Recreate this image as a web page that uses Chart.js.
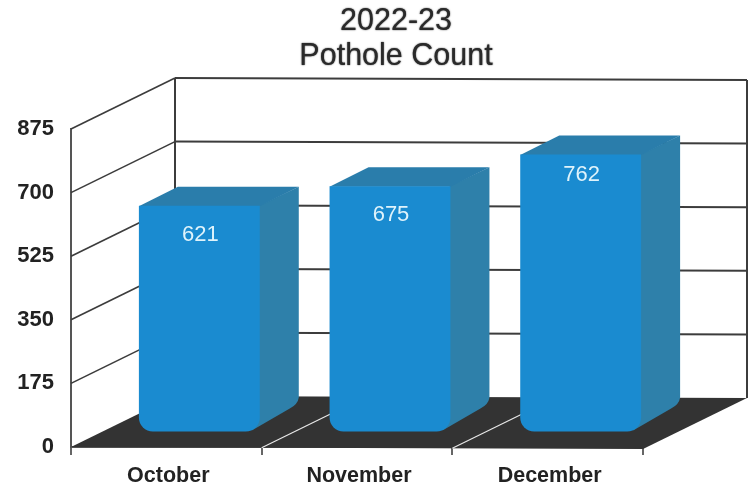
<!DOCTYPE html>
<html>
<head>
<meta charset="utf-8">
<style>html,body{margin:0;padding:0;background:#fff}canvas{display:block}</style>
<script src="https://cdn.jsdelivr.net/npm/chart.js@4"></script>
</head>
<body>
<canvas id="c" width="754" height="489"></canvas>
<script>
const titleLines = ['2022-23', 'Pothole Count'];
const categories = ['October', 'November', 'December'];
const potholeCounts = [621, 675, 762];
const yTickValues = [0, 175, 350, 525, 700, 875];
const labelDrop = [29, 29, 20];

const WALL = { dx: 104, dy: -51, skew: 2 };
const BAR = { shiftX: 33, shiftY: -15.5, dx: 39, dy: -19 };
const FRONT = '#1a8bd0', SIDE = '#2e80aa', TOP = '#2a7dab';

const scene = {
  id: 'scene',
  afterLayout(chart) {
    // centre the title over the plot's visual middle, with a slightly heavier ink
    const b = chart.titleBlock;
    b.left = 38;
    if (!b._heavy) {
      b._heavy = true;
      const orig = b.draw;
      b.draw = function (a) {
        const ctx = this.ctx;
        ctx.save();
        ctx.shadowColor = '#2a2a2a';
        ctx.shadowBlur = 1.5;
        orig.call(this, a);
        ctx.restore();
      };
    }
  },
  beforeDatasetsDraw(chart) {
    const { ctx, scales: { x, y } } = chart;
    const y0 = y.getPixelForValue(0);
    const l = x.left, r = x.right;
    const bl = l + WALL.dx, br = r + WALL.dx;
    const rise = 2;
    ctx.save();
    // floor
    ctx.fillStyle = '#333333';
    ctx.beginPath();
    ctx.moveTo(l, y0);
    ctx.lineTo(r, y0 + rise);
    ctx.lineTo(br, y0 + rise + WALL.dy);
    ctx.lineTo(bl, y0 + WALL.dy);
    ctx.closePath();
    ctx.fill();
    // floor dividers
    ctx.strokeStyle = '#e8e8e8';
    ctx.lineWidth = 1.2;
    for (let i = 1; i < categories.length; i++) {
      const px = l + (r - l) * i / categories.length;
      ctx.beginPath();
      ctx.moveTo(px, y0 + rise * i / categories.length);
      ctx.lineTo(px + WALL.dx, y0 + WALL.dy + rise * i / categories.length);
      ctx.stroke();
    }
    // grid lines
    ctx.strokeStyle = '#3c3c3c';
    yTickValues.forEach(v => {
      const p = y.getPixelForValue(v);
      if (v > 0) {
        ctx.lineWidth = 1.6;
        ctx.beginPath();
        ctx.moveTo(l, p);
        ctx.lineTo(bl, p + WALL.dy);
        ctx.stroke();
        ctx.lineWidth = 2;
        ctx.beginPath();
        ctx.moveTo(bl, p + WALL.dy);
        ctx.lineTo(br, p + WALL.dy + WALL.skew);
        ctx.stroke();
      }
    });
    // wall verticals
    const top = y.getPixelForValue(yTickValues[yTickValues.length - 1]);
    ctx.lineWidth = 2;
    ctx.beginPath();
    ctx.moveTo(bl, top + WALL.dy);
    ctx.lineTo(bl, y0 + WALL.dy);
    ctx.moveTo(br, top + WALL.dy + WALL.skew);
    ctx.lineTo(br, y0 + WALL.dy + WALL.skew);
    ctx.stroke();
    ctx.restore();

    // bars: shifted into the depth of the floor
    ctx.save();
    ctx.translate(BAR.shiftX, BAR.shiftY);
    chart.getDatasetMeta(0).data.forEach(el => {
      const R = el.x + el.width / 2, L = el.x - el.width / 2, T = el.y, B = el.base;
      ctx.fillStyle = SIDE;
      ctx.beginPath();
      ctx.moveTo(R - 1, T);
      ctx.lineTo(R + BAR.dx, T + BAR.dy);
      ctx.lineTo(R + BAR.dx, B + BAR.dy - 15);
      ctx.quadraticCurveTo(R + BAR.dx - 1, B + BAR.dy - 8, R + BAR.dx - 9, B + BAR.dy - 4);
      ctx.lineTo(R - 8, B - 1);
      ctx.closePath();
      ctx.fill();
      ctx.fillStyle = TOP;
      ctx.beginPath();
      ctx.moveTo(L, T + 0.5);
      ctx.lineTo(L + BAR.dx, T + BAR.dy);
      ctx.lineTo(R + BAR.dx, T + BAR.dy);
      ctx.lineTo(R, T + 0.5);
      ctx.closePath();
      ctx.fill();
    });
  },
  afterDatasetsDraw(chart) {
    const { ctx } = chart;
    ctx.restore();
    ctx.save();
    ctx.fillStyle = '#dff3fb';
    ctx.font = '22px "Liberation Sans"';
    ctx.textAlign = 'center';
    ctx.textBaseline = 'middle';
    chart.getDatasetMeta(0).data.forEach((el, i) => {
      ctx.fillText(String(potholeCounts[i]), el.x + BAR.shiftX + 1, el.y + BAR.shiftY + labelDrop[i]);
    });
    ctx.restore();
  }
};

new Chart(document.getElementById('c'), {
  type: 'bar',
  plugins: [scene],
  data: {
    labels: categories,
    datasets: [{
      data: potholeCounts,
      backgroundColor: FRONT,
      borderWidth: 0,
      borderRadius: { topLeft: 0, topRight: 0, bottomLeft: 14, bottomRight: 14 },
      borderSkipped: false,
      categoryPercentage: 0.634,
      barPercentage: 1,
      clip: false,
      yAxisID: 'y'
    }]
  },
  options: {
    responsive: false,
    animation: false,
    layout: { padding: 0 },
    plugins: {
      legend: { display: false },
      tooltip: { enabled: false },
      title: {
        display: true,
        text: titleLines,
        color: '#2a2a2a',
        font: { family: '"Liberation Sans"', size: 30.5, weight: 'normal', lineHeight: 1.12 },
        padding: { top: 5, bottom: 55.7 }
      }
    },
    scales: {
      x: {
        grid: { drawOnChartArea: false, drawTicks: true, tickLength: 8, color: '#666666', lineWidth: 2, offset: true },
        border: { color: '#555555', width: 2 },
        ticks: {
          color: '#222222', padding: 8, maxRotation: 0, labelOffset: 2,
          font: { family: '"Liberation Sans"', size: 21.5, weight: 'bold' }
        },
        afterFit(s) { s.height = 42; }
      },
      y: {
        min: 0, max: 875,
        afterBuildTicks(s) { s.ticks = yTickValues.map(v => ({ value: v })); },
        grid: { display: false, drawTicks: false },
        border: { color: '#555555', width: 2 },
        ticks: {
          color: '#222222', padding: 17,
          font: { family: '"Liberation Sans"', size: 22, weight: 'bold' }
        },
        afterFit(s) { s.width = 71; }
      },
      y2: {
        position: 'right',
        display: true,
        grid: { display: false },
        border: { display: false },
        ticks: { display: false },
        afterFit(s) { s.width = 111; }
      }
    }
  }
});
</script>
</body>
</html>
